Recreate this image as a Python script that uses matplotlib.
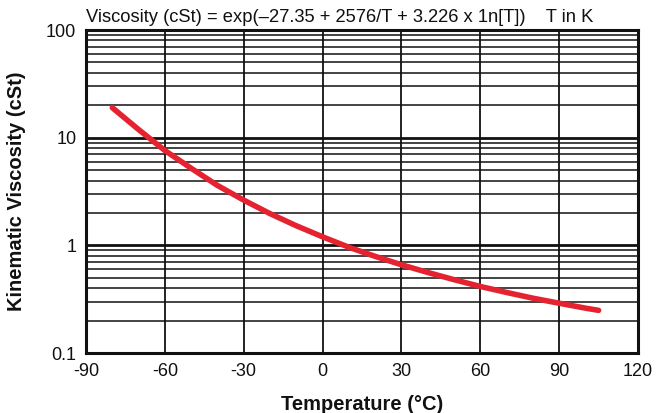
import matplotlib
matplotlib.use("Agg")
import matplotlib.pyplot as plt
from matplotlib.ticker import FixedLocator, NullFormatter

temps_c = [-80, -70, -60, -50, -40, -30, -20, -10, 0, 10, 20, 30, 40, 50, 60, 70, 80, 90, 100, 105]
viscosity = [19.0, 11.9, 7.6, 5.2, 3.6, 2.63, 1.97, 1.52, 1.2, 0.96, 0.79, 0.66, 0.56, 0.48, 0.415,
             0.365, 0.323, 0.29, 0.261, 0.249]
x_ticks = [-90, -60, -30, 0, 30, 60, 90, 120]
y_ticks = [0.1, 1, 10, 100]
y_tick_labels = ["0.1", "1", "10", "100"]
title = "Viscosity (cSt) = exp(\u201327.35 + 2576/T + 3.226 x 1n[T])    T in K"

plt.rcParams['font.family'] = ['Liberation Sans', 'DejaVu Sans']

fig = plt.figure(figsize=(6.57, 4.13), dpi=100)
ax = fig.add_axes([86/657, 1 - 353/413, (638-86)/657, (353-30)/413])

ax.set_yscale('log')
ax.set_xlim(-90, 120)
ax.set_ylim(0.1, 100)

minor = [m * 10.0**e for e in (-1, 0, 1) for m in range(2, 10)]
ax.yaxis.set_major_locator(FixedLocator(y_ticks))
ax.yaxis.set_minor_locator(FixedLocator(minor))
ax.yaxis.set_minor_formatter(NullFormatter())
ax.set_yticklabels(y_tick_labels)
ax.set_xticks(x_ticks)
ax.set_xticklabels([str(t) for t in x_ticks])

ax.grid(True, which='major', axis='y', color='#111111', linewidth=2.0)
ax.grid(True, which='minor', axis='y', color='#111111', linewidth=1.1)
ax.grid(True, which='major', axis='x', color='#111111', linewidth=1.3)
ax.tick_params(which='both', length=0, labelsize=13, pad=7, colors='#111111')

for s in ax.spines.values():
    s.set_linewidth(2.2)
    s.set_color('#111111')

ax.plot(temps_c, viscosity, color='#e52330', linewidth=4.0, solid_capstyle='round', zorder=5)

ax.set_xlabel("Temperature (\u00b0C)", fontsize=14.5, fontweight='bold', color='#111111')
ax.xaxis.set_label_coords(0.5, -(404 - 353) / (353 - 30), transform=ax.transAxes)
ax.set_ylabel("Kinematic Viscosity (cSt)", fontsize=14.5, fontweight='bold', color='#111111')
ax.yaxis.set_label_coords(-(86 - 17) / (638 - 86), 0.5, transform=ax.transAxes)
ax.xaxis.label.set_va('center')
ax.yaxis.label.set_va('center')

fig.text(86/657, 1 - 18/413, title, fontsize=13.2, ha='left', va='center', color='#111111')

fig.savefig("out.png", dpi=100)
